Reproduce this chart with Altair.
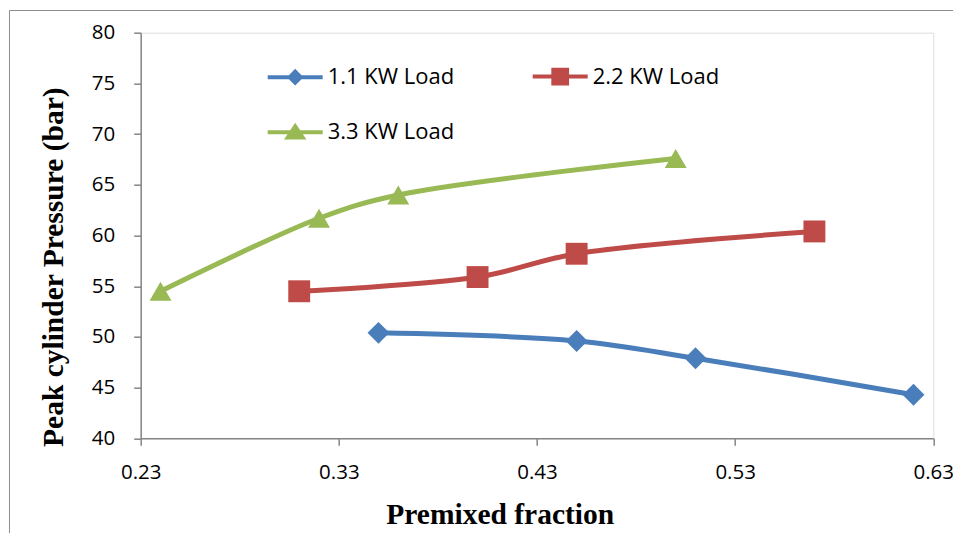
import altair as alt
import pandas as pd

# ---- data ----
series_names = ["1.1 KW Load", "2.2 KW Load", "3.3 KW Load"]
x_11 = [0.35, 0.45, 0.51, 0.62]
y_11 = [50.4, 49.6, 47.9, 44.3]
x_22 = [0.31, 0.40, 0.45, 0.57]
y_22 = [54.5, 55.9, 58.2, 60.4]
x_33 = [0.24, 0.32, 0.36, 0.50]
y_33 = [54.5, 61.7, 64.0, 67.6]
x_ticks = [0.23, 0.33, 0.43, 0.53, 0.63]
y_ticks = [40, 45, 50, 55, 60, 65, 70, 75, 80]

colors = ["#4A7EBB", "#BE4B48", "#98B954"]
marker_shapes = ["diamond", "square", "triangle-up"]
# legend symbols: a line with the marker on it
legend_shapes = [
    "M-1,0H1M0,-0.2L0.2,0L0,0.2L-0.2,0Z",
    "M-1,0H1M-0.25,-0.25H0.25V0.25H-0.25Z",
    "M-1,0H1M0,-0.21L0.27,0.19H-0.27Z",
]
# the legend grid fills column by column: order so rows read 1.1, 2.2 / 3.3
legend_order = [0, 2, 1]
legend_domain = [series_names[i] for i in legend_order]
legend_colors = [colors[i] for i in legend_order]
legend_paths = [legend_shapes[i] for i in legend_order]

rows = []
for name, xs, ys in zip(series_names, [x_11, x_22, x_33], [y_11, y_22, y_33]):
    for xv, yv in zip(xs, ys):
        rows.append({"series": name, "x": xv, "y": yv})
df = pd.DataFrame(rows)

FONT_TICK = "Open Sans"
FONT_TITLE = "Liberation Serif"

x_enc = alt.X(
    "x:Q",
    scale=alt.Scale(domain=[0.23, 0.63], nice=False, zero=False),
    axis=alt.Axis(
        values=x_ticks, format=".2f", grid=False,
        title="Premixed fraction", titleFont=FONT_TITLE, titleFontSize=29.5,
        titleFontWeight="bold", titleColor="black",
        titleX=359, titleY=85, titleBaseline="alphabetic", titleAlign="center",
        labelFont=FONT_TICK, labelFontSize=20.5, labelColor="black",
        labelPadding=17, labelFlush=False, labelOverlap=False,
        domainColor="#868686", domainWidth=1.5,
        tickColor="#868686", tickWidth=1.5, tickSize=7,
    ),
)
y_enc = alt.Y(
    "y:Q",
    scale=alt.Scale(domain=[40, 80], nice=False, zero=False),
    axis=alt.Axis(
        values=y_ticks, grid=False,
        title="Peak cylinder Pressure (bar)", titleFont=FONT_TITLE, titleFontSize=29.5,
        titleFontWeight="bold", titleColor="black", titleAngle=-90,
        titleX=-78, titleY=234, titleBaseline="alphabetic", titleAlign="center",
        labelFont=FONT_TICK, labelFontSize=20.5, labelColor="black",
        labelPadding=19, labelFlush=False, labelOverlap=False,
        domainColor="#868686", domainWidth=1.5,
        tickColor="#868686", tickWidth=1.5, tickSize=7,
    ),
)

color_scale = alt.Scale(domain=series_names, range=colors)

base = alt.Chart(df)

lines = base.mark_line(interpolate="catmull-rom", strokeWidth=5).encode(
    x=x_enc, y=y_enc,
    color=alt.Color("series:N", scale=color_scale, legend=None),
)

points = base.mark_point(filled=True, size=480, opacity=1).encode(
    x=x_enc, y=y_enc,
    color=alt.Color("series:N", scale=color_scale, legend=None),
    shape=alt.Shape("series:N", scale=alt.Scale(domain=series_names, range=marker_shapes), legend=None),
)

leg = alt.Legend(
    title=None, orient="none", legendX=125, legendY=14, columns=2,
    columnPadding=70, rowPadding=11, padding=0,
    symbolSize=3025, symbolStrokeWidth=4, symbolOpacity=1,
    symbolFillColor="#888888", symbolStrokeColor="#888888",
    labelFont=FONT_TICK, labelFontSize=22, labelColor="black", labelOffset=3,
    labelLimit=300,
)

legend_layer = base.transform_filter("false").mark_point(filled=True, opacity=1).encode(
    fill=alt.Fill("series:N", scale=alt.Scale(domain=legend_domain, range=legend_colors), legend=leg),
    stroke=alt.Stroke("series:N", scale=alt.Scale(domain=legend_domain, range=legend_colors), legend=leg),
    shape=alt.Shape("series:N", scale=alt.Scale(domain=legend_domain, range=legend_paths), legend=leg),
)

# outer chart-area border (top and left edges are visible in the reference)
frame_src = alt.Chart(pd.DataFrame({"k": [0]}))
frame_left = frame_src.mark_rule(color="#8c8c8c", strokeWidth=1, clip=False).encode(
    x=alt.value(-131.2), y=alt.value(-22.2), y2=alt.value(530)
)
frame_top = frame_src.mark_rule(color="#8c8c8c", strokeWidth=1, clip=False).encode(
    x=alt.value(-131.2), x2=alt.value(840), y=alt.value(-22.2)
)

chart = alt.layer(frame_left, frame_top, lines, points, legend_layer).resolve_scale(
    shape="independent", fill="independent", stroke="independent"
).properties(
    width=792.6, height=405.6,
    padding={"left": 132.7, "top": 24.7, "right": 20, "bottom": 94.7},
    autosize=alt.AutoSizeParams(type="none"),
).configure_view(stroke="transparent", strokeWidth=0).configure(background="white")

chart.save("out.html", embed_options={"renderer": "svg", "actions": False})
